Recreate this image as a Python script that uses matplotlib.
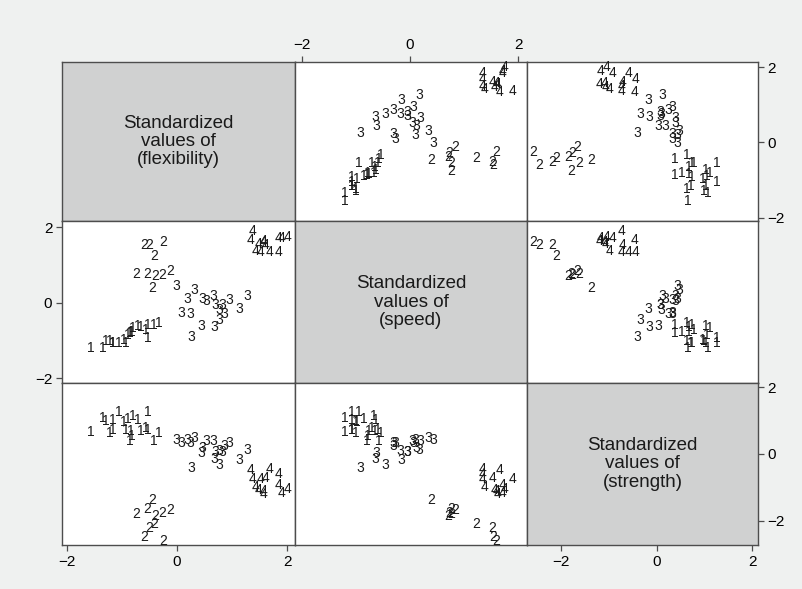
"""
Scatter matrix of standardized flexibility, speed and strength, points labelled by group.
"""

import matplotlib.pyplot as plt

plt.rcParams["font.family"] = ["Liberation Sans", "DejaVu Sans"]

# one entry per observation
GROUP = (
    [1] * 21
    + [2] * 10
    + [3] * 19
    + [4] * 13
)
FLEXIBILITY = [
    # group 1
    -1.56, -1.35, -1.29, -1.23, -1.17, -1.16, -1.06, -0.96, -0.93, -0.90, -0.86,
    -0.84, -0.82, -0.80, -0.72, -0.66, -0.56, -0.54, -0.54, -0.43, -0.33,
    # group 2
    -0.25, -0.60, -0.51, -0.42, -0.75, -0.39, -0.27, -0.13, -0.54, -0.46,
    # group 3
    -0.02, 0.08, 0.19, 0.23, 0.31, 0.45, 0.43, 0.53, 0.65, 0.70, 0.76, 0.82,
    0.85, 0.94, 0.67, 0.76, 1.12, 1.27, 0.25,
    # group 4
    1.33, 1.68, 1.84, 1.36, 1.51, 1.61, 1.42, 1.48, 1.57, 1.56, 1.84, 1.89, 2.01,
]
SPEED = [
    -1.20, -1.20, -1.00, -1.00, -1.07, -1.07, -1.07, -0.98, -1.07, -0.85, -0.80,
    -0.76, -0.78, -0.67, -0.62, -0.64, -0.71, -0.94, -0.60, -0.58, -0.53,
    1.60, 1.53, 1.52, 1.23, 0.76, 0.70, 0.73, 0.84, 0.76, 0.40,
    0.44, -0.27, 0.09, -0.31, 0.33, 0.11, -0.62, 0.04, 0.19, -0.05, -0.18, -0.05,
    -0.31, 0.06, -0.64, -0.45, -0.16, 0.18, -0.91,
    1.65, 1.34, 1.34, 1.89, 1.34, 1.53, 1.38, 1.56, 1.60, 1.62, 1.71, 1.71, 1.74,
]
STRENGTH = [
    0.65, 1.06, 0.99, 0.63, 1.02, 0.71, 1.25, 0.96, 0.73, 1.04, 0.38,
    0.68, 0.53, 1.12, 1.02, 0.68, 0.78, 1.25, 0.73, 0.38, 0.63,
    -2.60, -2.47, -2.20, -2.10, -1.80, -1.85, -1.77, -1.67, -1.63, -1.38,
    0.43, 0.33, 0.43, 0.33, 0.48, 0.17, 0.04, 0.38, 0.38, 0.07, 0.10, 0.07,
    0.24, 0.33, -0.16, -0.34, -0.18, 0.12, -0.41,
    -0.47, -0.44, -0.59, -0.74, -0.74, -0.71, -1.00, -1.08, -1.10, -1.20, -0.92, -1.18, -1.05,
]

VAR_NAMES = ["flexibility", "speed", "strength"]
VAR_DATA = [FLEXIBILITY, SPEED, STRENGTH]
VAR_LIMITS = [(-2.09, 2.14), (-2.12, 2.16), (-2.72, 2.12)]
TICKS = [-2, 0, 2]

BG = "#eff1f0"
DIAG_FILL = "#d0d1d1"
EDGE = "#4d4d4d"

W, H = 803, 589
X_EDGES = [62, 295, 527, 758]
Y_EDGES = [62, 221, 383, 545]

fig = plt.figure(figsize=(W / 100, H / 100), dpi=100, facecolor=BG)

for r in range(3):
    for c in range(3):
        left = X_EDGES[c] / W
        width = (X_EDGES[c + 1] - X_EDGES[c]) / W
        bottom = 1 - Y_EDGES[r + 1] / H
        height = (Y_EDGES[r + 1] - Y_EDGES[r]) / H
        ax = fig.add_axes([left, bottom, width, height])
        ax.set_xlim(VAR_LIMITS[c])
        ax.set_ylim(VAR_LIMITS[r])
        for spine in ax.spines.values():
            spine.set_color(EDGE)
            spine.set_linewidth(1.0)

        if r == c:
            ax.set_facecolor(DIAG_FILL)
            ax.text(0.5, 0.5, f"Standardized\nvalues of\n({VAR_NAMES[r]})",
                    transform=ax.transAxes, ha="center", va="center",
                    fontsize=13.5, color="#1a1a1a", linespacing=1.1)
        else:
            ax.set_facecolor("white")
            for g, xv, yv in zip(GROUP, VAR_DATA[c], VAR_DATA[r]):
                ax.text(xv, yv, str(g), ha="center", va="center",
                        fontsize=10, color="#1a1a1a")

        ax.set_xticks(TICKS)
        ax.set_yticks(TICKS)
        # Stata style: axes alternate round the outside of the matrix
        show_bottom = r == 2 and c in (0, 2)
        show_top = r == 0 and c == 1
        show_left = c == 0 and r == 1
        show_right = c == 2 and r in (0, 2)
        ax.tick_params(axis="x", bottom=show_bottom, labelbottom=show_bottom,
                       top=show_top, labeltop=show_top,
                       direction="out", length=4, width=0.9, color=EDGE,
                       labelsize=11, pad=3)
        ax.tick_params(axis="y", left=show_left, labelleft=show_left,
                       right=show_right, labelright=show_right,
                       direction="out", length=4, width=0.9, color=EDGE,
                       labelsize=11, pad=3)
        ax.set_xticklabels(["\u22122", "0", "2"])
        ax.set_yticklabels(["\u22122", "0", "2"])

fig.savefig("out.png", dpi=100, facecolor=BG)
